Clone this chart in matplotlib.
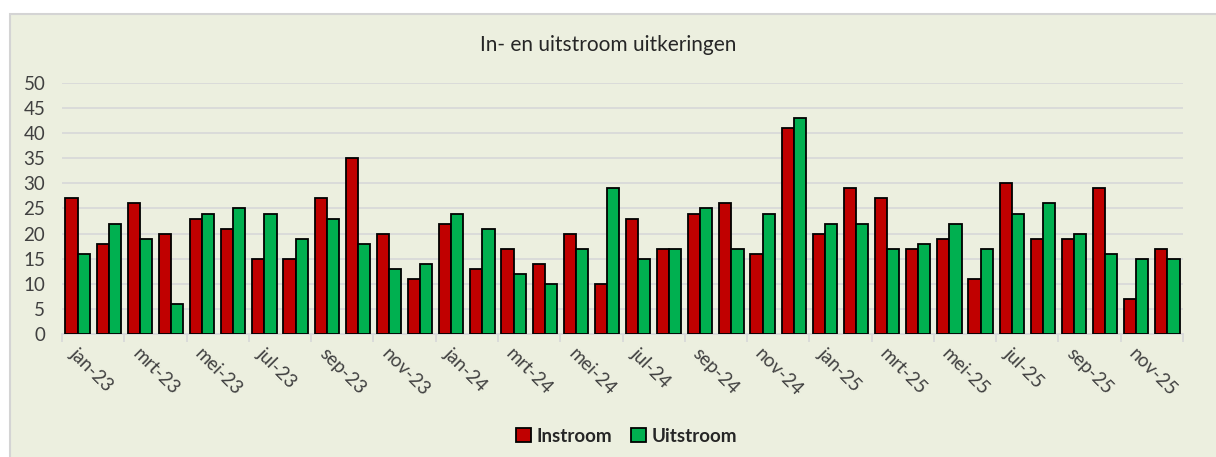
import numpy as np
import matplotlib.pyplot as plt
from matplotlib.patches import Rectangle

months = ["jan", "feb", "mrt", "apr", "mei", "jun",
          "jul", "aug", "sep", "okt", "nov", "dec"]
labels = [f"{m}-{y}" for y in ("23", "24", "25") for m in months]

instroom = [27, 18, 26, 20, 23, 21, 15, 15, 27, 35, 20, 11,
            22, 13, 17, 14, 20, 10, 23, 17, 24, 26, 16, 41,
            20, 29, 27, 17, 19, 11, 30, 19, 19, 29, 7, 17]
uitstroom = [16, 22, 19, 6, 24, 25, 24, 19, 23, 18, 13, 14,
             24, 21, 12, 10, 17, 29, 15, 17, 25, 17, 24, 43,
             22, 22, 17, 18, 22, 17, 24, 26, 20, 16, 15, 15]

plt.rcParams["font.family"] = ["Lato", "DejaVu Sans"]
bg = "#ECEFDF"

fig = plt.figure(figsize=(12.16, 4.57), dpi=100, facecolor="white")
# chart area with grey border
fig.patches.append(Rectangle((10 / 1216, -0.01), 1.0, 1 - 14 / 457 + 0.01,
                             transform=fig.transFigure, facecolor=bg,
                             edgecolor="#D4D4D4", linewidth=1.5, zorder=-10))

ax = fig.add_axes([62 / 1216, 1 - 334 / 457, (1183 - 62) / 1216, (334 - 83) / 457])
ax.set_facecolor(bg)

x = np.arange(len(labels))
w = 0.39
ax.bar(x - w / 2, instroom, w, color="#C00000", edgecolor="black", linewidth=1.3,
       label="Instroom", zorder=3)
ax.bar(x + w / 2, uitstroom, w, color="#00B050", edgecolor="black", linewidth=1.3,
       label="Uitstroom", zorder=3)

ax.set_xlim(-0.5, len(labels) - 0.5)
ax.set_ylim(0, 50)
ax.set_yticks(range(0, 51, 5))
ax.yaxis.grid(True, color="#D9D9D9", linewidth=1.3)
ax.set_axisbelow(True)
for s in ("top", "right", "left"):
    ax.spines[s].set_visible(False)
ax.spines["bottom"].set_color("#D9D9D9")
ax.spines["bottom"].set_linewidth(1.3)
ax.tick_params(axis="y", length=0, labelsize=13.5, colors="#404040", pad=12)

# tick marks between every two months, labels on odd months
ax.set_xticks(np.arange(-0.5, len(labels), 2))
ax.set_xticklabels([])
ax.tick_params(axis="x", length=6, width=1.3, color="#D9D9D9")
for i in range(0, len(labels), 2):
    ax.text(i - 0.15, -3.4, labels[i], rotation=-45, rotation_mode="anchor",
            ha="left", va="center", fontsize=13.5, color="#404040")

fig.text(0.5, 1 - 45 / 457, "In- en uitstroom uitkeringen", ha="center",
         va="center", fontsize=15, color="#262626")

leg = fig.legend(loc="center", bbox_to_anchor=(0.515, 1 - 436 / 457), ncol=2,
                 frameon=False, handlelength=0.8, handleheight=0.8,
                 handletextpad=0.3, columnspacing=1.0,
                 prop={"weight": "bold", "size": 13.5})
for t in leg.get_texts():
    t.set_color("#262626")

fig.savefig("out.png", dpi=100, facecolor="white")
